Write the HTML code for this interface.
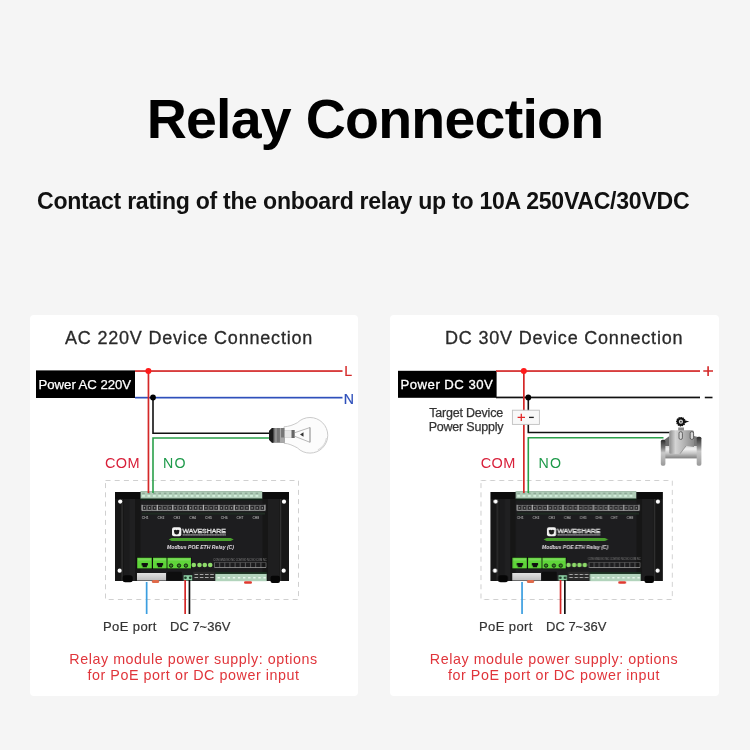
<!DOCTYPE html>
<html><head><meta charset="utf-8">
<style>
*{margin:0;padding:0;box-sizing:border-box}
html,body{width:750px;height:750px;overflow:hidden;background:#f5f5f5;font-family:"Liberation Sans",sans-serif}
.a{position:absolute;white-space:nowrap;will-change:transform}
#title{left:0;width:750px;text-align:center;top:89.2px;font-size:55.5px;letter-spacing:-0.75px;font-weight:bold;color:#000;line-height:60px}
#sub{left:37px;top:187.5px;font-size:23.1px;letter-spacing:-0.28px;font-weight:bold;color:#111;line-height:26px}
.panel{position:absolute;top:315px;height:381px;background:#fff;border-radius:4px}
.pt{position:absolute;font-size:18px;color:#2a2a2a;line-height:20px;letter-spacing:0.8px;-webkit-text-stroke:0.3px #2a2a2a}
svg{position:absolute;left:0;top:0;will-change:transform}
</style></head>
<body>
<div class="a" id="title">Relay Connection</div>
<div class="a" id="sub">Contact rating of the onboard relay up to 10A 250VAC/30VDC</div>
<div class="panel" style="left:30px;width:328px"></div>
<div class="panel" style="left:390px;width:329px"></div>
<div class="a pt" style="left:65px;top:328px">AC 220V Device Connection</div>
<div class="a pt" style="left:444.5px;top:328px">DC 30V Device Connection</div>
<svg width="750" height="750" viewBox="0 0 750 750" font-family="Liberation Sans, sans-serif">
<defs>
<linearGradient id="gmetal" x1="0" y1="0" x2="0" y2="1"><stop offset="0" stop-color="#e2e2e2"/><stop offset="1" stop-color="#bdbdbd"/></linearGradient>
<linearGradient id="gpipe" x1="0" y1="0" x2="0" y2="1"><stop offset="0" stop-color="#d8d8d8"/><stop offset="0.25" stop-color="#f2f2f2"/><stop offset="0.6" stop-color="#c4c4c4"/><stop offset="1" stop-color="#7e7e7e"/></linearGradient>
<linearGradient id="gbody" x1="0" y1="0" x2="1" y2="0"><stop offset="0" stop-color="#8c8c8c"/><stop offset="0.25" stop-color="#d4d4d4"/><stop offset="0.55" stop-color="#b8b8b8"/><stop offset="1" stop-color="#8a8a8a"/></linearGradient>
<linearGradient id="gfl" x1="0" y1="0" x2="0" y2="1"><stop offset="0" stop-color="#2a2a2a"/><stop offset="0.3" stop-color="#777"/><stop offset="0.5" stop-color="#c8c8c8"/><stop offset="1" stop-color="#9a9a9a"/></linearGradient>

<g id="board">
  <!-- dashed box -->
  <rect x="105.5" y="480.5" width="193" height="119" fill="none" stroke="#d0d0d0" stroke-width="1" stroke-dasharray="5 4.2"/>
  <!-- body -->
  <rect x="115" y="492" width="174" height="89" fill="#1d1d1f"/>
  <!-- ears -->
  <rect x="115" y="492" width="25.5" height="89" fill="#161616"/>
  <rect x="124" y="492" width="11" height="89" fill="#1b1b1c"/>
  <rect x="129.5" y="492" width="5.5" height="89" fill="#202021"/>
  <rect x="121.6" y="492" width="0.9" height="89" fill="#3c3c3c"/>
  <rect x="262.5" y="492" width="26.5" height="89" fill="#161616"/>
  <rect x="268" y="492" width="11.5" height="89" fill="#1e1e1f"/>
  <rect x="280.3" y="492" width="0.9" height="89" fill="#3c3c3c"/>
  <rect x="115" y="492" width="25.5" height="7" fill="#0c0c0c"/>
  <rect x="262.5" y="492" width="26.5" height="7" fill="#0c0c0c"/>
  <circle cx="120.2" cy="501.6" r="2.1" fill="#fff"/>
  <circle cx="284" cy="501.7" r="2.1" fill="#fff"/>
  <circle cx="119.6" cy="570.7" r="2.1" fill="#fff"/>
  <circle cx="283.7" cy="570.7" r="2.1" fill="#fff"/>
  <rect x="122.7" y="575.3" width="10" height="7" rx="2.5" fill="#060606"/>
  <rect x="270.5" y="575.7" width="9.5" height="7.2" rx="2" fill="#060606"/>
  <!-- top green terminal strip -->
  <rect x="140.6" y="491" width="121.6" height="7.8" fill="#afccb7"/>
  <rect x="140.6" y="491" width="121.6" height="0.8" fill="#9fb8a6"/>
  <g fill="#8ea896"><rect x="142.20" y="492.6" width="2.6" height="1.6"/><rect x="147.60" y="492.6" width="2.6" height="1.6"/><rect x="153.00" y="492.6" width="2.6" height="1.6"/><rect x="158.40" y="492.6" width="2.6" height="1.6"/><rect x="163.80" y="492.6" width="2.6" height="1.6"/><rect x="169.20" y="492.6" width="2.6" height="1.6"/><rect x="174.60" y="492.6" width="2.6" height="1.6"/><rect x="180.00" y="492.6" width="2.6" height="1.6"/><rect x="185.40" y="492.6" width="2.6" height="1.6"/><rect x="190.80" y="492.6" width="2.6" height="1.6"/><rect x="196.20" y="492.6" width="2.6" height="1.6"/><rect x="201.60" y="492.6" width="2.6" height="1.6"/><rect x="207.00" y="492.6" width="2.6" height="1.6"/><rect x="212.40" y="492.6" width="2.6" height="1.6"/><rect x="217.80" y="492.6" width="2.6" height="1.6"/><rect x="223.20" y="492.6" width="2.6" height="1.6"/><rect x="228.60" y="492.6" width="2.6" height="1.6"/><rect x="234.00" y="492.6" width="2.6" height="1.6"/><rect x="239.40" y="492.6" width="2.6" height="1.6"/><rect x="244.80" y="492.6" width="2.6" height="1.6"/><rect x="250.20" y="492.6" width="2.6" height="1.6"/><rect x="255.60" y="492.6" width="2.6" height="1.6"/></g>
  <g fill="#d4efdc"><rect x="142.10" y="494.9" width="2.8" height="1.9"/><rect x="147.50" y="494.9" width="2.8" height="1.9"/><rect x="152.90" y="494.9" width="2.8" height="1.9"/><rect x="158.30" y="494.9" width="2.8" height="1.9"/><rect x="163.70" y="494.9" width="2.8" height="1.9"/><rect x="169.10" y="494.9" width="2.8" height="1.9"/><rect x="174.50" y="494.9" width="2.8" height="1.9"/><rect x="179.90" y="494.9" width="2.8" height="1.9"/><rect x="185.30" y="494.9" width="2.8" height="1.9"/><rect x="190.70" y="494.9" width="2.8" height="1.9"/><rect x="196.10" y="494.9" width="2.8" height="1.9"/><rect x="201.50" y="494.9" width="2.8" height="1.9"/><rect x="206.90" y="494.9" width="2.8" height="1.9"/><rect x="212.30" y="494.9" width="2.8" height="1.9"/><rect x="217.70" y="494.9" width="2.8" height="1.9"/><rect x="223.10" y="494.9" width="2.8" height="1.9"/><rect x="228.50" y="494.9" width="2.8" height="1.9"/><rect x="233.90" y="494.9" width="2.8" height="1.9"/><rect x="239.30" y="494.9" width="2.8" height="1.9"/><rect x="244.70" y="494.9" width="2.8" height="1.9"/><rect x="250.10" y="494.9" width="2.8" height="1.9"/><rect x="255.50" y="494.9" width="2.8" height="1.9"/></g>
  <rect x="140.6" y="498.6" width="121.6" height="1.6" fill="#0f2416"/>
  <!-- terminal outline row -->
  <rect x="141" y="503.8" width="125" height="7.8" fill="#232325"/>
  <g fill="#262628" stroke="#8c8c8c" stroke-width="0.5"><rect x="142.30" y="505.6" width="4.3" height="4.6"/><rect x="147.43" y="505.6" width="4.3" height="4.6"/><rect x="152.55" y="505.6" width="4.3" height="4.6"/><rect x="157.68" y="505.6" width="4.3" height="4.6"/><rect x="162.80" y="505.6" width="4.3" height="4.6"/><rect x="167.93" y="505.6" width="4.3" height="4.6"/><rect x="173.05" y="505.6" width="4.3" height="4.6"/><rect x="178.18" y="505.6" width="4.3" height="4.6"/><rect x="183.30" y="505.6" width="4.3" height="4.6"/><rect x="188.43" y="505.6" width="4.3" height="4.6"/><rect x="193.55" y="505.6" width="4.3" height="4.6"/><rect x="198.68" y="505.6" width="4.3" height="4.6"/><rect x="203.80" y="505.6" width="4.3" height="4.6"/><rect x="208.93" y="505.6" width="4.3" height="4.6"/><rect x="214.05" y="505.6" width="4.3" height="4.6"/><rect x="219.18" y="505.6" width="4.3" height="4.6"/><rect x="224.30" y="505.6" width="4.3" height="4.6"/><rect x="229.43" y="505.6" width="4.3" height="4.6"/><rect x="234.55" y="505.6" width="4.3" height="4.6"/><rect x="239.68" y="505.6" width="4.3" height="4.6"/><rect x="244.80" y="505.6" width="4.3" height="4.6"/><rect x="249.93" y="505.6" width="4.3" height="4.6"/><rect x="255.05" y="505.6" width="4.3" height="4.6"/><rect x="260.18" y="505.6" width="4.3" height="4.6"/></g>
  <g fill="#a8a8a8"><rect x="143.85" y="507.2" width="1.2" height="1.4"/><rect x="148.98" y="507.2" width="1.2" height="1.4"/><rect x="154.10" y="507.2" width="1.2" height="1.4"/><rect x="159.23" y="507.2" width="1.2" height="1.4"/><rect x="164.35" y="507.2" width="1.2" height="1.4"/><rect x="169.48" y="507.2" width="1.2" height="1.4"/><rect x="174.60" y="507.2" width="1.2" height="1.4"/><rect x="179.73" y="507.2" width="1.2" height="1.4"/><rect x="184.85" y="507.2" width="1.2" height="1.4"/><rect x="189.98" y="507.2" width="1.2" height="1.4"/><rect x="195.10" y="507.2" width="1.2" height="1.4"/><rect x="200.23" y="507.2" width="1.2" height="1.4"/><rect x="205.35" y="507.2" width="1.2" height="1.4"/><rect x="210.48" y="507.2" width="1.2" height="1.4"/><rect x="215.60" y="507.2" width="1.2" height="1.4"/><rect x="220.73" y="507.2" width="1.2" height="1.4"/><rect x="225.85" y="507.2" width="1.2" height="1.4"/><rect x="230.98" y="507.2" width="1.2" height="1.4"/><rect x="236.10" y="507.2" width="1.2" height="1.4"/><rect x="241.23" y="507.2" width="1.2" height="1.4"/><rect x="246.35" y="507.2" width="1.2" height="1.4"/><rect x="251.48" y="507.2" width="1.2" height="1.4"/><rect x="256.60" y="507.2" width="1.2" height="1.4"/><rect x="261.73" y="507.2" width="1.2" height="1.4"/></g>
  <path d="M142.00 504.8v5.8M157.38 504.8v5.8M172.75 504.8v5.8M188.12 504.8v5.8M203.50 504.8v5.8M218.88 504.8v5.8M234.25 504.8v5.8M249.62 504.8v5.8M265.00 504.8v5.8" stroke="#d0d0d0" stroke-width="0.8"/>
  <path d="M142 510.4H265" stroke="#a8a8a8" stroke-width="0.7"/>
  <rect x="142" y="512.6" width="123" height="2" fill="#1f2b22"/>
  <g font-size="3.4" font-weight="bold" fill="#a0a0a0" text-anchor="middle">
    <text x="145.2" y="519.4">CH1</text><text x="161.0" y="519.4">CH2</text><text x="176.8" y="519.4">CH3</text><text x="192.6" y="519.4">CH4</text><text x="208.4" y="519.4">CH5</text><text x="224.2" y="519.4">CH6</text><text x="240.0" y="519.4">CH7</text><text x="255.8" y="519.4">CH8</text>
  </g>
  <!-- logo -->
  <rect x="172" y="527.3" width="9.3" height="9" rx="2" fill="#f2f2f2"/>
  <path d="M173.8 530.6q1.4 -1.6 2.8 -0.4q1.4 -1.2 2.9 0.4l-0.8 3.2q-2.1 1.4 -4.1 0z" fill="#1a1a1a"/>
  <text x="182.5" y="532.6" font-size="6.2" fill="#2a2a2c" stroke="#e6e6e6" stroke-width="0.45" textLength="43.5" lengthAdjust="spacingAndGlyphs">WAVESHARE</text>
  <rect x="182.5" y="534.2" width="43.5" height="1.4" fill="#6e6e70"/><path d="M183 534.9h42.5" stroke="#b0b0b0" stroke-width="0.5" stroke-dasharray="1 0.6"/>
  <path d="M168.7 539.5l3 -1.5h59l3 1.5l-3 1.5h-59z" fill="#4aa02e"/>
  <text x="167" y="549" font-size="5.4" font-weight="bold" font-style="italic" fill="#e2dce2" textLength="67" lengthAdjust="spacingAndGlyphs">Modbus POE ETH Relay (C)</text>
  <!-- bottom green blocks -->
  <rect x="136.5" y="557" width="55" height="12" fill="#0a0a0a"/>
  <rect x="137.2" y="557.7" width="14.6" height="10.7" fill="#5fd53a"/>
  <rect x="153" y="557.7" width="13.6" height="10.7" fill="#5fd53a"/>
  <rect x="167.4" y="557.7" width="23.6" height="10.7" fill="#5fd53a"/>
  <rect x="138" y="558.5" width="13" height="2" fill="#7ad95a"/>
  <rect x="154" y="558.5" width="12" height="2" fill="#7ad95a"/>
  <rect x="168" y="558.5" width="22" height="2" fill="#7ad95a"/>
  <path d="M141.6 563h6.3v2.6h-1v1.7h-4.3v-1.7h-1z" fill="#101010"/>
  <path d="M156.8 563h6.3v2.6h-1v1.7h-4.3v-1.7h-1z" fill="#101010"/>
  <circle cx="171.1" cy="565.6" r="1.7" fill="#3d8a2a" stroke="#0c0c0c" stroke-width="0.9"/>
  <circle cx="179" cy="565.6" r="1.7" fill="#3d8a2a" stroke="#0c0c0c" stroke-width="0.9"/>
  <circle cx="185.9" cy="565.6" r="1.7" fill="#3d8a2a" stroke="#0c0c0c" stroke-width="0.9"/>
  <g fill="#8edb6a"><circle cx="193.8" cy="565" r="2.3"/><circle cx="199.5" cy="565" r="2.3"/><circle cx="204.8" cy="565" r="2.3"/><circle cx="210.2" cy="565" r="2.3"/></g>
  <!-- lower right terminal outline and strip -->
  <text x="240" y="560.5" font-size="2.6" fill="#8a8a8a" text-anchor="middle">COM GND NO NC COM NO NC NO COM NC</text>
  <path d="M214.5 562.5v5M219.7 562.5v5M224.8 562.5v5M229.9 562.5v5M235.1 562.5v5M240.2 562.5v5M245.4 562.5v5M250.6 562.5v5M255.7 562.5v5M260.9 562.5v5M266.0 562.5v5" stroke="#8a8a8a" stroke-width="0.6"/>
  <path d="M214.5 567.5H266" stroke="#9a9a9a" stroke-width="0.8"/>
  <path d="M214.5 562.5H266" stroke="#6a6a6a" stroke-width="0.5"/>
  <rect x="215.3" y="573.8" width="51.4" height="7.4" fill="#b2d4bc"/>
  <rect x="215.3" y="572.2" width="51.4" height="1.6" fill="#1a3320"/>
  <g fill="#e8f6ec"><rect x="217.5" y="577" width="2.4" height="1.5"/><rect x="222.6" y="577" width="2.4" height="1.5"/><rect x="227.7" y="577" width="2.4" height="1.5"/><rect x="232.8" y="577" width="2.4" height="1.5"/><rect x="237.9" y="577" width="2.4" height="1.5"/><rect x="243" y="577" width="2.4" height="1.5"/><rect x="248.1" y="577" width="2.4" height="1.5"/><rect x="253.2" y="577" width="2.4" height="1.5"/><rect x="258.3" y="577" width="2.4" height="1.5"/><rect x="263.4" y="577" width="2.4" height="1.5"/></g>
  <rect x="244" y="581.2" width="8" height="2.6" rx="1.3" fill="#e03a30"/>
  <!-- below: rj45 metal, dc jack, small terminal, switches -->
  <rect x="137" y="573" width="29" height="7.5" fill="url(#gmetal)"/>
  <rect x="151.8" y="580" width="7.4" height="3" rx="1.5" fill="#e06a4a"/>
  <rect x="167.1" y="571.8" width="14.8" height="8.6" rx="1" fill="#0e0e0e"/>
  <rect x="183.6" y="575.2" width="8.6" height="5.3" fill="#8ccfa4"/>
  <circle cx="185.5" cy="577.8" r="1.3" fill="#1e3a28"/><circle cx="190.2" cy="577.8" r="1.3" fill="#1e3a28"/>
  <rect x="193.2" y="571.8" width="21.6" height="8.6" fill="#2a2a2a"/>
  <g fill="#a8a8a8"><rect x="194.5" y="574" width="3.6" height="1"/><rect x="199.8" y="574" width="3.6" height="1"/><rect x="205" y="574" width="3.6" height="1"/><rect x="210.2" y="574" width="3.6" height="1"/><rect x="194.5" y="577" width="3.6" height="1"/><rect x="199.8" y="577" width="3.6" height="1"/><rect x="205" y="577" width="3.6" height="1"/><rect x="210.2" y="577" width="3.6" height="1"/></g>
</g>
</defs>

<!-- ===== LEFT PANEL ===== -->
<use href="#board"/>
<!-- power label -->
<rect x="36" y="370.4" width="99" height="27.6" fill="#000"/>
<text x="38.6" y="389" font-size="13.2" fill="#fff" stroke="#fff" stroke-width="0.25" letter-spacing="-0.05">Power AC 220V</text>
<!-- L / N lines -->
<rect x="135" y="370.2" width="207.5" height="1.7" fill="#d42828"/>
<rect x="135" y="396.8" width="207.5" height="1.7" fill="#2f50bb"/>
<text x="344.2" y="376" font-size="14.2" fill="#d42828" stroke="#d42828" stroke-width="0.2">L</text>
<text x="343.8" y="403.8" font-size="14.2" fill="#2f50bb" stroke="#2f50bb" stroke-width="0.2">N</text>
<!-- wires -->
<rect x="147.6" y="371" width="1.7" height="122" fill="#d42828"/>
<circle cx="148.4" cy="371.1" r="3" fill="#ff1a1a"/>
<path d="M153 397.5V433.2H270" fill="none" stroke="#111" stroke-width="1.6"/>
<path d="M153 493V438H270" fill="none" stroke="#2aa04a" stroke-width="1.6"/>
<circle cx="153" cy="397.5" r="2.9" fill="#000"/>
<text x="105" y="468" font-size="14.5" fill="#d8203a" letter-spacing="0.35">COM</text>
<text x="163" y="468" font-size="14.2" fill="#1e9a4a" letter-spacing="1.3">NO</text>
<!-- bulb -->
<g>
  <path d="M284 426.8C289 426.5 293 425 297.4 422.7A17.8 17.8 0 1 1 297.4 447.9C293 445.6 289 443.5 284 443.3Z" fill="#fcfcfc" stroke="#c4c4c4" stroke-width="0.9"/>
  <path d="M318 450A17 17 0 0 0 326.5 438" fill="none" stroke="#dadada" stroke-width="1.2"/>
  <rect x="284" y="430.8" width="9" height="6.4" fill="#e8e8e8" stroke="#b0b0b0" stroke-width="0.4"/>
  <rect x="291.5" y="430" width="3.2" height="8" fill="#666"/>
  <path d="M294.5 432.8L310 427.5V442.3L294.5 436.2" fill="none" stroke="#8a8a8a" stroke-width="0.6"/>
  <path d="M310 427.5V442.3" stroke="#9a9a9a" stroke-width="0.8"/>
  <path d="M300 434.5L303.5 432.3V436.7Z" fill="#333"/>
  <path d="M269 431L272 428H284.5V442.8H272L269 439.7Z" fill="#767676"/>
  <path d="M269 431L272 428H273.5V442.8H272L269 439.7Z" fill="#1a1a1a"/>
  <path d="M276 428v14.8M280.5 428v14.8" stroke="#a8a8a8" stroke-width="1.1"/>
  <rect x="280" y="437.5" width="4.5" height="5.3" fill="#a8a8a8"/>
</g>
<!-- bottom wires -->
<rect x="145.8" y="582" width="1.7" height="32" fill="#3b9ee0"/>
<rect x="184.3" y="580" width="1.7" height="34" fill="#d42828"/>
<rect x="188.6" y="580" width="1.7" height="34" fill="#111"/>
<text x="103" y="631" font-size="13" fill="#333" stroke="#333" stroke-width="0.2" letter-spacing="0.4">PoE port</text>
<text x="170" y="631" font-size="13" fill="#333" stroke="#333" stroke-width="0.2" letter-spacing="0">DC 7~36V</text>
<text x="193.5" y="664" font-size="14.3" fill="#e0353b" text-anchor="middle" letter-spacing="0.55">Relay module power supply: options</text>
<text x="193.5" y="680" font-size="14.3" fill="#e0353b" text-anchor="middle" letter-spacing="0.55">for PoE port or DC power input</text>

<!-- ===== RIGHT PANEL ===== -->
<use href="#board" transform="translate(490.2 0) scale(0.991 1) translate(-114.8 0)"/>
<rect x="398" y="370.8" width="98.6" height="27" fill="#000"/>
<text x="400.6" y="389" font-size="13.2" fill="#fff" stroke="#fff" stroke-width="0.3" letter-spacing="0.45">Power DC 30V</text>
<rect x="496" y="370.2" width="204" height="1.7" fill="#d42828"/>
<rect x="496" y="396.6" width="204" height="1.7" fill="#111"/>
<path d="M703.3 371h9.7M708.1 366.2v9.8" stroke="#d42828" stroke-width="1.6"/>
<path d="M704.8 397.5h7.7" stroke="#111" stroke-width="1.6"/>
<rect x="523" y="371" width="1.7" height="122" fill="#d42828"/>
<circle cx="523.8" cy="371.1" r="3" fill="#ff1a1a"/>
<path d="M528.3 397.5V432.5H669.5" fill="none" stroke="#111" stroke-width="1.6"/>
<path d="M528.3 493V437.7H663.5" fill="none" stroke="#2aa04a" stroke-width="1.6"/>
<rect x="512.4" y="410.2" width="27" height="14.2" fill="#f8f8f8" stroke="#c0c0c0" stroke-width="0.9"/>
<path d="M517.6 417.4h7.4M521.3 413.7v7.4" stroke="#e02828" stroke-width="1.3"/>
<path d="M529 417.4h4.8" stroke="#222" stroke-width="1.3"/>
<circle cx="528.3" cy="397.5" r="2.9" fill="#000"/>
<text x="503" y="416.7" font-size="12.5" fill="#333" stroke="#333" stroke-width="0.25" text-anchor="end" letter-spacing="-0.2">Target Device</text>
<text x="503.4" y="430.5" font-size="12.5" fill="#333" stroke="#333" stroke-width="0.25" text-anchor="end" letter-spacing="-0.2">Power Supply</text>
<text x="480.7" y="468" font-size="14.5" fill="#d8203a" letter-spacing="0.35">COM</text>
<text x="538.5" y="468" font-size="14.2" fill="#1e9a4a" letter-spacing="1.3">NO</text>
<!-- valve -->
<g>
  <path d="M664 440L669.5 436V447H664Z" fill="#6a6a6a"/>
  <path d="M694 436L698 437V447H694Z" fill="#7a7a7a"/>
  <rect x="664" y="446" width="34" height="12.4" fill="url(#gpipe)"/>
  <rect x="660.8" y="439.8" width="4.6" height="25.9" rx="1.6" fill="url(#gfl)"/>
  <rect x="696.7" y="436.7" width="4.7" height="29" rx="1.6" fill="url(#gfl)"/>
  <path d="M669.3 432Q669.3 430.2 671.3 430.2H692Q694 430.2 694 432V447L686 446L680 453.7H670.5Q669.3 453.7 669.3 452.5Z" fill="url(#gbody)"/>
  <path d="M686 446L680 453.7" stroke="#777" stroke-width="0.6"/>
  <rect x="679" y="431.7" width="3.4" height="7.7" rx="1.5" fill="#d6d6d6" stroke="#3a3a3a" stroke-width="0.7"/>
  <rect x="690.2" y="431.7" width="3.4" height="7.7" rx="1.5" fill="#d6d6d6" stroke="#3a3a3a" stroke-width="0.7"/>
  <rect x="678.2" y="427.5" width="5.8" height="3" fill="#8a8a8a"/>
  <path d="M684.5 420.3L689.3 421.6L684.5 423Z" fill="#111"/>
  <circle cx="680.9" cy="421.7" r="4.2" fill="#111" stroke="#111" stroke-width="1.2" stroke-dasharray="1.3 0.8"/>
  <circle cx="680.9" cy="421.7" r="2.1" fill="#d8d8d8"/>
  <circle cx="680.9" cy="421.7" r="0.9" fill="#333"/>
</g>
<rect x="521.2" y="582" width="1.7" height="32" fill="#3b9ee0"/>
<rect x="559.7" y="580" width="1.7" height="34" fill="#d42828"/>
<rect x="564" y="580" width="1.7" height="34" fill="#111"/>
<text x="479" y="631" font-size="13" fill="#333" stroke="#333" stroke-width="0.2" letter-spacing="0.4">PoE port</text>
<text x="546" y="631" font-size="13" fill="#333" stroke="#333" stroke-width="0.2" letter-spacing="0">DC 7~36V</text>
<text x="554" y="664" font-size="14.3" fill="#e0353b" text-anchor="middle" letter-spacing="0.55">Relay module power supply: options</text>
<text x="554" y="680" font-size="14.3" fill="#e0353b" text-anchor="middle" letter-spacing="0.55">for PoE port or DC power input</text>
</svg>
</body></html>
